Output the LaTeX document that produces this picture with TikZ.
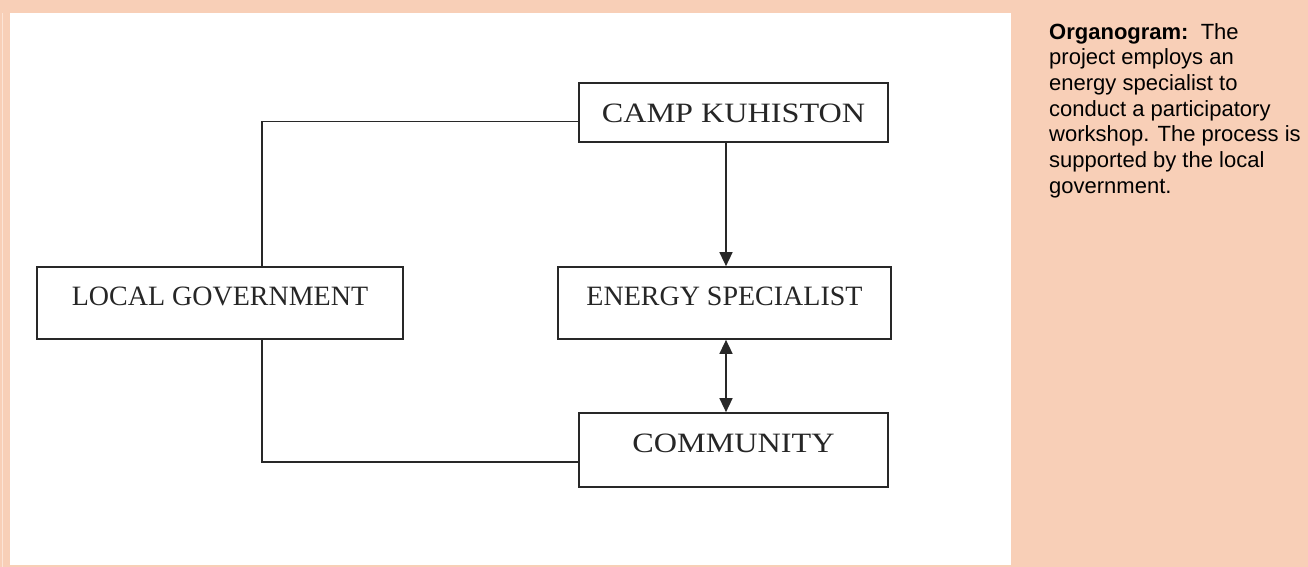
\documentclass[tikz,border=0pt]{standalone}
\usepackage{graphicx}
\usepackage{fontspec}
\setmainfont{Liberation Serif}
\newfontfamily\notefont{Liberation Sans}
\usetikzlibrary{arrows.meta}
\definecolor{peach}{RGB}{248,207,183}
\definecolor{peachlight}{RGB}{252,228,214}
\definecolor{boxline}{RGB}{40,40,40}
\newcommand{\widecaps}[1]{\scalebox{1.15}[1]{#1}}
\tikzset{
  orgbox/.style={draw=boxline, line width=1.7pt, fill=white, inner sep=0pt,
    text=black!85, font=\fontsize{28}{30}\selectfont},
  orgline/.style={draw=boxline, line width=1.5pt},
  orgtip/.tip={Triangle[length=14pt,width=13pt]},
}
\begin{document}
\begin{tikzpicture}[x=1pt,y=-1pt]
\useasboundingbox (0,0) rectangle (1308,567);
% Page background and white panel
\fill[peach] (0,0) rectangle (1308,567);
\fill[white] (10,13) rectangle (1011,565);
\draw[peachlight, line width=1.5pt] (2.5,13) -- (2.5,567);
%
% Boxes
\node[orgbox, minimum width=309pt, text height=40pt, text depth=19pt] (camp) at (733.5,112.5) {\widecaps{CAMP KUHISTON}};
\node[orgbox, minimum width=333pt, text height=38pt, text depth=34pt] (energy) at (724.5,303) {ENERGY SPECIALIST};
\node[orgbox, minimum width=366pt, text height=38pt, text depth=34pt] (local) at (220,303) {LOCAL GOVERNMENT};
\node[orgbox, minimum width=309pt, text height=39pt, text depth=35pt] (community) at (733.5,450) {\widecaps{COMMUNITY}};
%
% Connectors
\draw[orgline, -orgtip] ([xshift=-7.5pt]camp.south) -- ([xshift=-7.5pt]camp.south |- energy.north);
\draw[orgline, orgtip-orgtip] ([xshift=1.5pt]energy.south) -- ([xshift=1.5pt]energy.south |- community.north);
% Local government links
\draw[orgline] ([xshift=42pt]local.north) |- ([yshift=-9pt]camp.west);
\draw[orgline] ([xshift=42pt]local.south) |- ([yshift=-12pt]community.west);
%
% Side note
\node[anchor=north west, align=left, inner sep=0pt, font=\notefont\fontsize{22}{25.7}\selectfont] (note) at (1049,23)
  {\textbf{Organogram:}\ \ The\\project employs an\\energy specialist to\\conduct a participatory\\workshop. The process is\\supported by the local\\government.};
\end{tikzpicture}
\end{document}
